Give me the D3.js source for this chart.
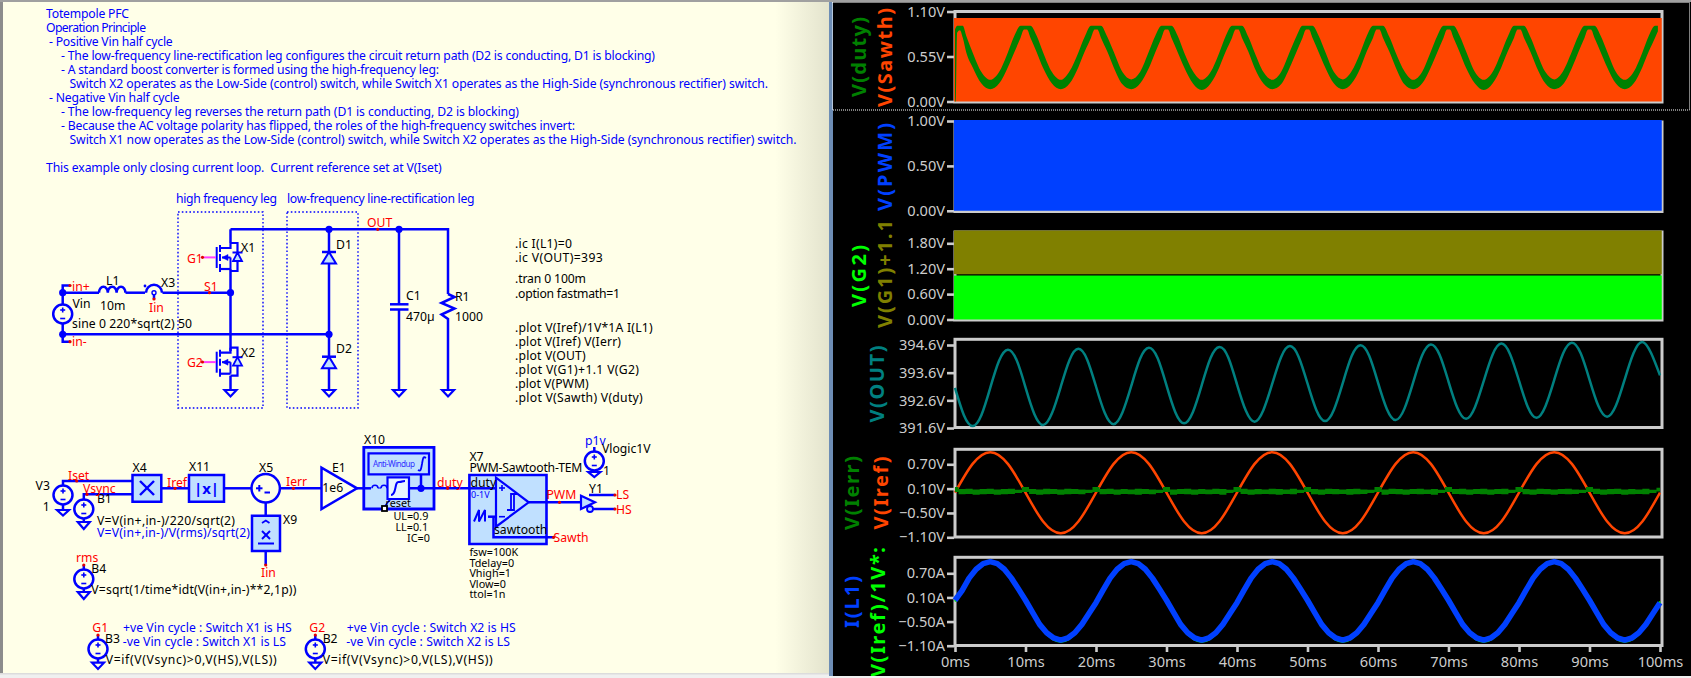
<!DOCTYPE html>
<html lang="en">
    <head>
        <meta charset="utf-8">
        <title>Totempole PFC</title>
        <script type="text/javascript" src="https://cdn.jsdelivr.net/npm/d3@7/dist/d3.min.js"></script>
        <style>
        html,body{
            margin:0;
            padding:0;
            background-color:#f0f0f0;
            overflow:hidden;
        }
        svg{
            display:block;
        }
        text{
            font-family:"Noto Sans",sans-serif;
            white-space:pre;
        }
        </style>
    </head>
    <body>
        <script type="text/javascript">

        let w = 1691;
        let h = 678;

        // ---- waveform values ----
        let timeTicks = [0,10,20,30,40,50,60,70,80,90,100];

        let fillTime = [-0.15,100.25];
        let sawthLow = [0,0];
        let sawthHigh = [1.02,1.02];
        let pwmLow = [0,0];
        let pwmHigh = [1.011,1.011];
        let g1Low = [1.07,1.07];
        let g1High = [2.1,2.1];
        let g2Low = [0,0];
        let g2High = [1.04,1.04];

        let dutyTime = [0,0.1,0.3,0.7,1.1,1.6,2.5,3.75,5,6.25,7.5,8.4,
            9.3,9.8,10.2,10.7,11.6,12.5,13.75,15,16.25,17.5,18.4,
            19.3,19.8,20.2,20.7,21.6,22.5,23.75,25,26.25,27.5,28.4,
            29.3,29.8,30.2,30.7,31.6,32.5,33.75,35,36.25,37.5,38.4,
            39.3,39.8,40.2,40.7,41.6,42.5,43.75,45,46.25,47.5,48.4,
            49.3,49.8,50.2,50.7,51.6,52.5,53.75,55,56.25,57.5,58.4,
            59.3,59.8,60.2,60.7,61.6,62.5,63.75,65,66.25,67.5,68.4,
            69.3,69.8,70.2,70.7,71.6,72.5,73.75,75,76.25,77.5,78.4,
            79.3,79.8,80.2,80.7,81.6,82.5,83.75,85,86.25,87.5,88.4,
            89.3,89.8,90.2,90.7,91.6,92.5,93.75,95,96.25,97.5,98.4,99.3,99.7];
        let dutyHigh = [0.88,0.9,0.925,0.925,0.925,0.8,0.6,0.36,0.265,0.36,0.6,0.8,
            0.925,0.925,0.925,0.925,0.8,0.6,0.36,0.265,0.37,0.6,0.79,
            0.925,0.925,0.925,0.925,0.79,0.61,0.36,0.27,0.36,0.61,0.8,
            0.925,0.925,0.925,0.925,0.8,0.6,0.37,0.265,0.36,0.6,0.8,
            0.925,0.925,0.925,0.925,0.79,0.6,0.36,0.265,0.36,0.61,0.79,
            0.925,0.925,0.925,0.925,0.8,0.61,0.36,0.27,0.37,0.6,0.8,
            0.925,0.925,0.925,0.925,0.79,0.6,0.37,0.265,0.36,0.61,0.8,
            0.925,0.925,0.925,0.925,0.8,0.61,0.36,0.265,0.36,0.6,0.79,
            0.925,0.925,0.925,0.925,0.79,0.6,0.36,0.27,0.37,0.61,0.8,
            0.925,0.925,0.925,0.925,0.8,0.61,0.36,0.265,0.36,0.6,0.8,0.925,0.925];
        let dutyLowEdge = [0,0,0.84,0.87,0.78,0.6,0.42,0.22,0.15,0.22,0.42,0.6,
            0.78,0.88,0.88,0.78,0.6,0.41,0.22,0.15,0.22,0.42,0.61,
            0.78,0.88,0.88,0.78,0.61,0.42,0.21,0.15,0.22,0.41,0.6,
            0.78,0.88,0.88,0.78,0.6,0.42,0.22,0.14,0.22,0.42,0.61,
            0.78,0.88,0.88,0.78,0.61,0.41,0.22,0.15,0.21,0.42,0.6,
            0.78,0.88,0.88,0.78,0.6,0.42,0.22,0.15,0.22,0.41,0.61,
            0.78,0.88,0.88,0.78,0.61,0.42,0.21,0.15,0.22,0.42,0.6,
            0.78,0.88,0.88,0.78,0.6,0.41,0.22,0.14,0.22,0.42,0.61,
            0.78,0.88,0.88,0.78,0.61,0.42,0.22,0.15,0.21,0.41,0.6,
            0.78,0.88,0.88,0.78,0.6,0.42,0.22,0.15,0.22,0.42,0.61,0.78,0.86];

        // sampled every 1.25 ms
        let voutTime = [0,1.25,2.5,3.75,5,6.25,7.5,8.75,10,11.25,12.5,13.75,15,16.25,17.5,18.75,
            20,21.25,22.5,23.75,25,26.25,27.5,28.75,30,31.25,32.5,33.75,35,36.25,37.5,38.75,
            40,41.25,42.5,43.75,45,46.25,47.5,48.75,50,51.25,52.5,53.75,55,56.25,57.5,58.75,
            60,61.25,62.5,63.75,65,66.25,67.5,68.75,70,71.25,72.5,73.75,75,76.25,77.5,78.75,
            80,81.25,82.5,83.75,85,86.25,87.5,88.75,90,91.25,92.5,93.75,95,96.25,97.5,98.75,100];
        let vout = [393.05,392.07,391.67,392.07,393.05,394.03,394.43,394.05,393.07,392.11,391.71,392.13,393.09,394.06,394.46,394.07,
            393.1,392.14,391.74,392.16,393.12,394.1,394.5,394.12,393.14,392.17,391.77,392.18,393.15,394.13,394.53,394.16,
            393.18,392.23,391.83,392.25,393.2,394.16,394.56,394.17,393.21,392.25,391.85,392.26,393.22,394.19,394.59,394.21,
            393.24,392.29,391.89,392.3,393.26,394.22,394.62,394.24,393.28,392.33,391.93,392.35,393.3,394.25,394.65,394.26,
            393.31,392.36,391.97,392.39,393.34,394.29,394.68,394.3,393.35,392.4,392.01,392.41,393.36,394.31,394.71,394.3,393.5];

        // sampled every 2.5 ms
        let sineTime = [0,2.5,5,7.5,10,12.5,15,17.5,20,22.5,25,27.5,30,32.5,35,37.5,40,42.5,45,47.5,
            50,52.5,55,57.5,60,62.5,65,67.5,70,72.5,75,77.5,80,82.5,85,87.5,90,92.5,95,97.5,100];
        let iref = [0,0.71,1,0.71,0,-0.71,-1,-0.71,0,0.71,
            1,0.71,0,-0.71,-1,-0.71,0,0.71,1,0.71,
            0,-0.71,-1,-0.71,0,0.71,1,0.71,0,-0.71,
            -1,-0.71,0,0.71,1,0.71,0,-0.71,-1,-0.71,0];

        // sampled every 1 ms
        let msTime = [0,1,2,3,4,5,6,7,8,9,10,11,12,13,14,15,16,17,18,19,20,21,22,23,24,25,26,27,28,29,
            30,31,32,33,34,35,36,37,38,39,40,41,42,43,44,45,46,47,48,49,50,51,52,53,54,55,56,57,58,59,
            60,61,62,63,64,65,66,67,68,69,70,71,72,73,74,75,76,77,78,79,80,81,82,83,84,85,86,87,88,89,
            90,91,92,93,94,95,96,97,98,99,100];
        let ierrHigh = [0.14,0.09,0.1,0.08,0.09,0.1,0.08,0.09,0.1,0.07,0.14,0.09,0.08,0.1,0.09,0.08,0.1,0.09,0.08,0.07,
            0.14,0.09,0.1,0.08,0.09,0.08,0.1,0.09,0.08,0.07,0.14,0.08,0.09,0.1,0.08,0.09,0.08,0.1,0.09,0.07,
            0.14,0.1,0.08,0.09,0.08,0.1,0.09,0.08,0.1,0.07,0.14,0.09,0.08,0.1,0.09,0.08,0.09,0.1,0.08,0.07,
            0.14,0.08,0.1,0.09,0.08,0.09,0.1,0.08,0.09,0.07,0.14,0.09,0.1,0.08,0.09,0.1,0.08,0.09,0.1,0.07,
            0.14,0.09,0.08,0.1,0.09,0.08,0.09,0.1,0.08,0.07,0.14,0.1,0.08,0.09,0.1,0.08,0.09,0.08,0.1,0.07,0.12];
        let ierrLow = [0.02,-0.04,-0.03,-0.05,-0.04,-0.03,-0.05,-0.04,-0.03,-0.01,0.02,-0.03,-0.05,-0.04,-0.03,-0.05,-0.04,-0.03,-0.04,-0.01,
            0.02,-0.04,-0.03,-0.05,-0.03,-0.04,-0.05,-0.03,-0.04,-0.01,0.02,-0.05,-0.03,-0.04,-0.05,-0.03,-0.04,-0.03,-0.05,-0.01,
            0.02,-0.03,-0.05,-0.04,-0.03,-0.04,-0.05,-0.03,-0.04,-0.01,0.02,-0.04,-0.05,-0.03,-0.04,-0.03,-0.05,-0.04,-0.03,-0.01,
            0.02,-0.05,-0.03,-0.04,-0.05,-0.03,-0.04,-0.03,-0.05,-0.01,0.02,-0.03,-0.04,-0.05,-0.03,-0.04,-0.05,-0.03,-0.04,-0.01,
            0.02,-0.04,-0.05,-0.03,-0.04,-0.05,-0.03,-0.04,-0.03,-0.01,0.02,-0.03,-0.05,-0.04,-0.03,-0.05,-0.04,-0.03,-0.04,-0.01,0.03];
        let il1 = [0.03,0.27,0.58,0.8,0.94,0.99,0.94,0.8,0.58,0.31,0.03,-0.27,-0.57,-0.78,-0.91,-0.96,-0.91,-0.78,-0.57,-0.3,
            -0.03,0.28,0.58,0.8,0.94,0.99,0.94,0.8,0.58,0.31,0.03,-0.27,-0.57,-0.78,-0.91,-0.96,-0.91,-0.78,-0.57,-0.3,
            -0.03,0.28,0.58,0.8,0.94,0.99,0.94,0.8,0.58,0.31,0.03,-0.27,-0.57,-0.78,-0.91,-0.96,-0.91,-0.78,-0.57,-0.3,
            -0.03,0.28,0.58,0.8,0.94,0.99,0.94,0.8,0.58,0.31,0.03,-0.27,-0.57,-0.78,-0.91,-0.96,-0.91,-0.78,-0.57,-0.3,
            -0.03,0.28,0.58,0.8,0.94,0.99,0.94,0.8,0.58,0.31,0.03,-0.27,-0.57,-0.78,-0.91,-0.96,-0.91,-0.78,-0.57,-0.3,-0.03];

        // tick labels per plot pane
        let dutyTicks = [0,0.55,1.1];
        let pwmTicks = [0,0.5,1];
        let gateTicks = [0,0.6,1.2,1.8];
        let voutTicks = [391.6,392.6,393.6,394.6];
        let irefTicks = [-1.1,-0.5,0.1,0.7];
        let il1Ticks = [-1.1,-0.5,0.1,0.7];

        // ---- texts of the schematic: x, baseline, text, length on screen ----
        let noteLines = [
            [46,18,"Totempole PFC",83],
            [46,32,"Operation Principle",100],
            [49,46,"- Positive Vin half cycle",123.7],
            [61,60,"- The low-frequency line-rectification leg configures the circuit return path (D2 is conducting, D1 is blocking)",594],
            [61,74,"- A standard boost converter is formed using the high-frequency leg:",378],
            [69.5,88,"Switch X2 operates as the Low-Side (control) switch, while Switch X1 operates as the High-Side (synchronous rectifier) switch.",698.5],
            [49,102,"- Negative Vin half cycle",130.7],
            [61,116,"- The low-frequency leg reverses the return path (D1 is conducting, D2 is blocking)",458],
            [61,130,"- Because the AC voltage polarity has flipped, the roles of the high-frequency switches invert:",514],
            [69.5,144,"Switch X1 now operates as the Low-Side (control) switch, while Switch X2 operates as the High-Side (synchronous rectifier) switch.",727],
            [46,172,"This example only closing current loop.  Current reference set at V(Iset)",395.7],
            [176,203,"high frequency leg",101],
            [287,203,"low-frequency line-rectification leg",187.5],
            [97,536.7,"V=V(in+,in-)/V(rms)/sqrt(2)",153],
            [123,632.3,"+ve Vin cycle : Switch X1 is HS",168.7],
            [122.7,646,"-ve Vin cycle : Switch X1 is LS",163.3],
            [346.7,632.3,"+ve Vin cycle : Switch X2 is HS",169],
            [346.3,646,"-ve Vin cycle : Switch X2 is LS",163.7],
            [585,445,"p1v"]
        ];
        let blackLabels = [
            [241,251.7,"X1"],[241,356.7,"X2"],[161,286.7,"X3"],[106,285,"L1"],[100,310,"10m"],
            [72.5,307.7,"Vin"],[72,328,"sine 0 220*sqrt(2) 50",120],[336,249,"D1"],[336,353.3,"D2"],
            [406,300,"C1"],[406,320.7,"470µ"],[455,300.7,"R1"],[455,321,"1000"],
            [515,248.3,".ic I(L1)=0",57],[515,262,".ic V(OUT)=393",87.7],[515,283.3,".tran 0 100m",71],[515,297.5,".option fastmath=1",105],
            [515,332.3,".plot V(Iref)/1V*1A I(L1)",137.7],[515,346,".plot V(Iref) V(Ierr)",106],[515,360,".plot V(OUT)",70.7],
            [515,374,".plot V(G1)+1.1 V(G2)",124],[515,388,".plot V(PWM)",73.7],[515,402,".plot V(Sawth) V(duty)",127.7],
            [35.6,490,"V3"],[42.7,510.7,"1"],[96.9,503.3,"B1"],[97,525,"V=V(in+,in-)/220/sqrt(2)",138],
            [132.5,471.7,"X4"],[189,471,"X11"],[259,472.3,"X5"],[283,524.3,"X9"],[332,472.3,"E1"],[322.3,492.3,"1e6"],
            [364,444,"X10"],
            [469.4,461,"X7"],[469.4,472.3,"PWM-Sawtooth-TEM",113],[470.6,486.7,"duty"],[494,534.3,"sawtooth"],
            [589,493,"Y1"],[602,453.3,"Vlogic1V"],[603,475,"1"],
            [91.3,572.7,"B4"],[91.3,594,"V=sqrt(1/time*idt(V(in+,in-)**2,1p))",205],
            [105,643.3,"B3"],[105.7,664.3,"V=if(V(Vsync)>0,V(HS),V(LS))",171],
            [322.7,643.3,"B2"],[322.7,664.3,"V=if(V(Vsync)>0,V(LS),V(HS))",170]
        ];
        // tightly stacked parameter lists, set a little smaller
        let paramLabels = [
            [385.5,506.7,"reset"],[393.4,520,"UL=0.9"],[395.4,531,"LL=0.1"],[407,541.5,"IC=0"],
            [469.4,556,"fsw=100K"],[469.4,566.7,"Tdelay=0"],[469.4,577,"Vhigh=1"],[469.4,587.5,"Vlow=0"],[469.4,598,"ttol=1n"]
        ];
        let redLabels = [
            [367,227,"OUT",377.7,229.3],[187,262.7,"G1",202.5,257.3],[187,367.4,"G2",202.5,362],
            [72,290.7,"in+",70,285.5],[72,346,"in-",70,341.7],[204,290.7,"S1",209.5,292.7],[149,311.7,"Iin",154,299],
            [68,480,"Iset",76.7,481],[83,492.7,"Vsync",87,494.3],[167,486.7,"Iref",175,488.3],[286,485.7,"Ierr",293.4,488.3],
            [261,576.7,"Iin",265.7,565],[437,486.7,"duty",447.6,488.3],[546.5,499.3,"PWM",559.5,502.3],[553.6,541.7,"Sawth",553.6,537.3],
            [616,499,"LS",615,495],[616,514,"HS",615,509],[76,561.7,"rms",83.8,565],
            [92.3,631.7,"G1",98,635],[309.3,631.7,"G2",315.3,635]
        ];

        // ---- page ----
        var svg = d3.select("body")
                    .append("svg")
                    .attr("width", w)
                    .attr("height", h);

        var grad = svg.append("defs").append("linearGradient").attr("id","fade");
        grad.append("stop").attr("offset","0").attr("stop-color","#ffffe8");
        grad.append("stop").attr("offset","0.935").attr("stop-color","#ffffe8");
        grad.append("stop").attr("offset","1").attr("stop-color","#e3e3cd");

        svg.append("rect").attr("width",w).attr("height",h).attr("fill","#f0f0f0");
        svg.append("rect").attr("x",3).attr("y",2).attr("width",826).attr("height",671).attr("fill","url(#fade)");
        svg.append("rect").attr("x",0).attr("y",0).attr("width",3).attr("height",674).attr("fill","#8c8c8c");
        svg.append("rect").attr("x",0).attr("y",673).attr("width",829).attr("height",1.5).attr("fill","#dcdcdc");
        svg.append("rect").attr("x",829).attr("y",2).attr("width",4).attr("height",674).attr("fill","#6d8db5");
        svg.append("rect").attr("x",833).attr("y",2).attr("width",858).attr("height",674).attr("fill","#000");
        svg.append("rect").attr("x",0).attr("y",0).attr("width",w).attr("height",2).attr("fill","#a0a0a0");

        // ---- schematic helpers ----
        var sch = svg.append("g").attr("stroke-linejoin","miter");
        var blue = "#0000ff";
        var pale = "#c0e0ff";
        var labelSize = 12.2;

        function wire(pts, width){
            sch.append("path")
               .attr("d", d3.line()(pts))
               .attr("fill","none")
               .attr("stroke",blue)
               .attr("stroke-width",width||2.5);
        }
        function shape(pts, fill, width){
            sch.append("path")
               .attr("d", d3.line()(pts)+"Z")
               .attr("fill",fill)
               .attr("stroke",blue)
               .attr("stroke-width",width||2.5);
        }
        function node(x,y){
            sch.append("circle").attr("cx",x).attr("cy",y).attr("r",3.6).attr("fill",blue);
        }
        function box(x0,y0,x1,y1,width,fill){
            shape([[x0,y0],[x1,y0],[x1,y1],[x0,y1]],fill||pale,width||2.5);
        }
        function ground(x,y0,y1){
            shape([[x-6,y0],[x+6,y0],[x,y1]],"none",2.2);
        }
        function source(x,y){
            sch.append("circle").attr("cx",x).attr("cy",y).attr("r",9.5).attr("fill","none").attr("stroke",blue).attr("stroke-width",2.5);
            wire([[x-2.5,y-4],[x+2.5,y-4]],1.6);
            wire([[x,y-6.5],[x,y-1.5]],1.6);
            wire([[x-2.5,y+4.5],[x+2.5,y+4.5]],1.6);
        }
        function dotted(x0,y0,x1,y1){
            sch.append("rect").attr("x",x0).attr("y",y0).attr("width",x1-x0).attr("height",y1-y0)
               .attr("fill","none").attr("stroke",blue).attr("stroke-width",1.4).attr("stroke-dasharray","1.6 2.2");
        }
        function mosfet(dy){
            wire([[230.5,243+dy],[230.5,248+dy],[220,248+dy]],2.2);
            wire([[220,269+dy],[230.5,269+dy]],2.2);
            wire([[230.5,243+dy],[237.5,243+dy],[237.5,271+dy],[230.5,271+dy]],2.2);
            wire([[216.7,247+dy],[216.7,268+dy]],2);
            wire([[220,245+dy],[220,252+dy]],2);
            wire([[220,254+dy],[220,261+dy]],2);
            wire([[220,264+dy],[220,272+dy]],2);
            wire([[222,257.5+dy],[230.5,257.5+dy]],2);
            wire([[230.5,257.5+dy],[230.5,269+dy]],2);
            shape([[222,257.5+dy],[228,254.5+dy],[228,260.5+dy]],blue,0.5);
            wire([[232.5,252.5+dy],[242.5,252.5+dy]],2);
            shape([[237.5,252.5+dy],[233,261+dy],[242,261+dy]],pale,1.8);
            sch.append("path").attr("d",d3.line()([[204,257.4+dy],[216,257.4+dy]]))
               .attr("stroke","#ff40ff").attr("stroke-width",2).attr("fill","none");
        }
        function diode(x,y){
            wire([[x-7,y],[x+7,y]]);
            shape([[x,y],[x-7,y+11.5],[x+7,y+11.5]],pale,2);
        }
        function labelText(sel, size, colour){
            sel.attr("x",d=>d[0]).attr("y",d=>d[1]).attr("font-size",size).attr("fill",colour)
               .each(function(d){ if(d.length===4){ d3.select(this).attr("textLength",d[3]); } })
               .text(d=>d[2]);
        }

        // ---- power stage ----
        dotted(178,212,263,408);
        dotted(287,212,358,408);
        wire([[230.5,229.3],[448,229.3],[448,294]]);
        wire([[448,294],[454.5,297],[441.5,303],[454.5,308.5],[441.5,314.5],[448,319],[448,390]]);
        ground(448,390,396.5);
        wire([[329,229.3],[329,390]]);
        ground(329,390,396.5);
        diode(329,252);
        diode(329,356.7);
        wire([[399,229.3],[399,304.3]]);
        wire([[390,304.3],[408.5,304.3]]);
        wire([[390,309.5],[408.5,309.5]]);
        wire([[399,309.5],[399,390]]);
        ground(399,390,396.5);
        wire([[230.5,229.3],[230.5,243]]);
        wire([[230.5,269],[230.5,351]]);
        wire([[230.5,375.7],[230.5,390]]);
        ground(230.5,390,396.5);
        mosfet(0);
        mosfet(104.7);
        wire([[62.7,334.3],[329,334.3]]);
        wire([[62.7,292.7],[99,292.7]]);
        wire([[125.5,292.7],[145,292.7]]);
        wire([[162.5,292.7],[230.5,292.7]]);
        sch.append("path").attr("d","M99 292.7 a4.4 6 0 0 1 8.8 0 a4.4 6 0 0 1 8.8 0 a4.4 6 0 0 1 8.8 0")
           .attr("fill","none").attr("stroke",blue).attr("stroke-width",2.5);
        sch.append("path").attr("d","M146 292.7 a8 8 0 0 1 16 0")
           .attr("fill","none").attr("stroke",blue).attr("stroke-width",2.5);
        sch.append("circle").attr("cx",154).attr("cy",292.7).attr("r",2).attr("fill","none").attr("stroke",blue).attr("stroke-width",1.4);
        sch.append("circle").attr("cx",145).attr("cy",286).attr("r",1.4).attr("fill",blue);
        wire([[154,295],[154,299]]);
        wire([[70,285.5],[62.7,285.5],[62.7,304]]);
        wire([[62.7,324],[62.7,341.7],[70,341.7]]);
        source(62.7,314);
        [[329,229.3],[399,229.3],[230.5,292.7],[62.7,292.7],[62.7,334.3],[329,334.3]].forEach(function(p){ node(p[0],p[1]); });

        // ---- control chain ----
        wire([[63,485],[63,481],[132.5,481]]);
        source(63,495);
        wire([[63,504.5],[63,510]]);
        ground(63,510,515.5);
        wire([[83.8,499.5],[83.8,494.3],[132.5,494.3]]);
        source(83.8,509);
        wire([[83.8,518.5],[83.8,522]]);
        ground(83.8,522,529);
        box(132.5,475,161.3,501.7);
        wire([[140,481],[154,495]],2.4);
        wire([[154,481],[140,495]],2.4);
        wire([[161.3,488.3],[189,488.3]]);
        box(189,475,224,501.7);
        sch.append("text").attr("x",206.5).attr("y",493.5).attr("text-anchor","middle").attr("font-size",15).attr("font-weight","bold").attr("fill",blue).text("|x|");
        wire([[224,488.3],[251.5,488.3]]);
        sch.append("circle").attr("cx",265.7).attr("cy",488.3).attr("r",14.2).attr("fill","none").attr("stroke",blue).attr("stroke-width",2.5);
        wire([[256,488.3],[262.5,488.3]],2);
        wire([[259.3,485],[259.3,491.5]],2);
        wire([[264.5,492.5],[270,492.5]],2);
        wire([[280,488.3],[321.5,488.3]]);
        wire([[265.7,502.5],[265.7,515.7]]);
        box(252,515.7,280,551);
        wire([[262,523],[265.8,520.5],[269.5,523]],1.8);
        wire([[262,531],[270,539]],2);
        wire([[270,531],[262,539]],2);
        wire([[258,543.5],[274,543.5]],2);
        wire([[265.7,551],[265.7,565]]);
        shape([[321.5,467.7],[321.5,509],[357,488.3]],"none",2.5);
        wire([[357,488.3],[364,488.3]]);
        box(363.8,447.3,434,509,2.8);
        box(368.5,453.3,429,474.3,2.2);
        sch.append("text").attr("x",373).attr("y",466.5).attr("font-size",8.2).attr("textLength",42).attr("fill","#3030ff").text("Anti-Windup");
        sch.append("path").attr("d","M418 470 c3 2 3 -1 4 -6 c1 -6 1 -8 4 -6").attr("fill","none").attr("stroke",blue).attr("stroke-width",1.8);
        wire([[364,488.3],[371,488.3]]);
        sch.append("path").attr("d","M372 488.3 a3 3 0 0 1 6 0 M381 488.3 a3 3 0 0 1 6 0").attr("fill","none").attr("stroke",blue).attr("stroke-width",1.6);
        sch.append("path").attr("d","M378 488 L381 488").attr("stroke",blue);
        box(387.5,477.3,409,499,2.2,"#e8f4ff");
        sch.append("path").attr("d","M391 495 c6 0 3 -14 8 -13 c4 0 2 -1 6 -1").attr("fill","none").attr("stroke",blue).attr("stroke-width",2);
        wire([[409,488.3],[469.4,488.3]]);
        wire([[421,474.3],[421,488.3]]);
        node(421,488.3);
        sch.append("path").attr("d","M384.5 508 c1 -4 3 -5 6 -9").attr("fill","none").attr("stroke",blue).attr("stroke-width",1.6);
        sch.append("rect").attr("x",382).attr("y",506).attr("width",5).attr("height",5).attr("fill","#fff").attr("stroke","#000").attr("stroke-width",1.8);
        box(469.4,475,546.5,544,2.6);
        wire([[469.4,488.3],[496,488.3]]);
        shape([[496,477.7],[496,526.7],[528.7,502.3]],pale,2.2);
        wire([[499,488],[505,488]],1.6);
        wire([[502,485],[502,491]],1.6);
        wire([[499,516.7],[505,516.7]],1.6);
        wire([[507,510],[511,510],[511,494],[515,494]],1.8);
        wire([[510,510],[514,510],[514,494],[518,494]],1.8);
        wire([[474,521.5],[479,510],[479,521.5],[485,510],[485,521.5]],2);
        wire([[488,516.7],[496,516.7]]);
        wire([[493.5,516.7],[493.5,537.3],[553.6,537.3]]);
        wire([[528.7,502.3],[581,502.3]]);
        shape([[581,495.7],[581,509],[595,502.3]],pale,2.2);
        wire([[589,495],[615,495]]);
        wire([[593,509],[615,509]]);
        sch.append("circle").attr("cx",590).attr("cy",509).attr("r",3).attr("fill",pale).attr("stroke",blue).attr("stroke-width",1.8);
        wire([[594.3,447],[594.3,451.5]]);
        source(594.3,461);
        wire([[594.3,470.5],[594.3,472]]);
        ground(594.3,472,477);
        wire([[83.8,565],[83.8,569.5]]);
        source(83.8,579);
        wire([[83.8,588.5],[83.8,592]]);
        ground(83.8,592,599);
        wire([[98,635],[98,639.5]]);
        source(98,649);
        wire([[98,658.5],[98,662.7]]);
        ground(98,662.7,669);
        wire([[315.3,635],[315.3,639.5]]);
        source(315.3,649);
        wire([[315.3,658.5],[315.3,662.7]]);
        ground(315.3,662.7,669);
        sch.append("text").attr("x",471).attr("y",497.7).attr("font-size",9).attr("fill",blue).text("0-1V");

        // ---- schematic texts ----
        labelText(sch.selectAll("text.note").data(noteLines).enter().append("text").attr("class","note"),labelSize,blue);
        labelText(sch.selectAll("text.black").data(blackLabels).enter().append("text").attr("class","black"),labelSize,"#000");
        labelText(sch.selectAll("text.param").data(paramLabels).enter().append("text").attr("class","param"),10.8,"#000");
        sch.selectAll("text.red").data(redLabels).enter().append("text")
           .attr("class","red").attr("x",d=>d[0]).attr("y",d=>d[1])
           .attr("font-size",labelSize).attr("fill","#ff0000").text(d=>d[2]);
        sch.selectAll("circle.reddot").data(redLabels).enter().append("circle")
           .attr("class","reddot").attr("cx",d=>d[3]).attr("cy",d=>d[4]).attr("r",1.6).attr("fill","#e00000");

        // ---- plot panes ----
        var x = d3.scaleLinear().domain([0,100]).range([955,1660]);
        var grid = "#cccccc";

        function pane(top, bottom, domain, range, ticks, fmt){
            var y = d3.scaleLinear().domain(domain).range(range);
            svg.append("rect").attr("x",955).attr("y",top).attr("width",707).attr("height",bottom-top)
               .attr("fill","none").attr("stroke",grid).attr("stroke-width",3);
            var axis = svg.append("g").attr("transform","translate(954,0)")
               .call(d3.axisLeft(y).tickValues(ticks).tickSize(7).tickPadding(2).tickFormat(fmt));
            axis.select(".domain").remove();
            axis.selectAll("line").attr("stroke",grid).attr("stroke-width",2.6);
            axis.selectAll("text").attr("fill",grid).attr("font-size",14.6).attr("font-family","DejaVu Sans");
            return y;
        }
        function band(y, time, low, high, colour, curve){
            var area = d3.area().x(i=>x(time[i])).y0(i=>y(low[i])).y1(i=>y(high[i]));
            if(curve){ area.curve(curve); }
            svg.append("path").attr("d",area(d3.range(time.length))).attr("fill",colour);
        }
        function trace(y, time, values, colour, width, curve){
            var line = d3.line().x(i=>x(time[i])).y(i=>y(values[i])).curve(curve);
            svg.append("path").attr("d",line(d3.range(time.length)))
               .attr("fill","none").attr("stroke",colour).attr("stroke-width",width).attr("stroke-linejoin","round");
        }
        function seriesLabel(cx, cy, txt, colour, len){
            svg.append("text").attr("transform","translate("+cx+","+cy+") rotate(-90)")
               .attr("text-anchor","middle").attr("font-size",20).attr("font-weight","bold")
               .attr("font-family","DejaVu Sans").attr("fill",colour)
               .attr("textLength",len).text(txt);
        }
        var volts = d => d3.format(".2f")(d)+"V";
        var amps = d => d3.format(".2f")(d)+"A";

        var y1 = pane(11.5,102,[0,1.1],[101.5,11.5],dutyTicks,volts);
        band(y1,fillTime,sawthLow,sawthHigh,"#ff4500");
        band(y1,dutyTime,dutyLowEdge,dutyHigh,"#008000",d3.curveMonotoneX);

        var y2 = pane(122,211.5,[0,1],[210.8,121],pwmTicks,volts);
        band(y2,fillTime,pwmLow,pwmHigh,"#0040ff");

        var y3 = pane(232,320,[0,1.8],[319.5,243.3],gateTicks,volts);
        band(y3,fillTime,g1Low,g1High,"#808000");
        band(y3,fillTime,g2Low,g2High,"#00ff00");

        var y4 = pane(339.3,427.5,[391.6,394.6],[428,345],voutTicks,d => d3.format(".1f")(d)+"V");
        trace(y4,voutTime,vout,"#008080",2.5,d3.curveNatural);

        var y5 = pane(449.3,537,[-1.1,0.7],[537.3,464.3],irefTicks,volts);
        trace(y5,sineTime,iref,"#ff4500",2.5,d3.curveNatural);
        band(y5,msTime,ierrLow,ierrHigh,"#008000",d3.curveStep);

        var y6 = pane(557.3,645.5,[-1.1,0.7],[645.7,573.3],il1Ticks,amps);
        trace(y6,sineTime,iref,"#00ff00",2,d3.curveNatural);
        trace(y6,msTime,il1,"#0040ff",5.6,d3.curveLinear);

        var xAxis = svg.append("g").attr("transform","translate(0,646)")
           .call(d3.axisBottom(x).tickValues(timeTicks).tickSize(6).tickPadding(5).tickFormat(d=>d+"ms"));
        xAxis.select(".domain").remove();
        xAxis.selectAll("line").attr("stroke",grid).attr("stroke-width",2.6);
        xAxis.selectAll("text").attr("fill",grid).attr("font-size",14.6).attr("font-family","DejaVu Sans");

        seriesLabel(866,57,"V(duty)","#008000",80);
        seriesLabel(892,57.5,"V(Sawth)","#ff4500",99);
        seriesLabel(892,167,"V(PWM)","#0040ff",88);
        seriesLabel(866,276,"V(G2)","#00ff00",62);
        seriesLabel(892,274,"V(G1)+1.1","#808000",108);
        seriesLabel(884,384,"V(OUT)","#008080",77);
        seriesLabel(859,493,"V(Ierr)","#008000",74);
        seriesLabel(888,493,"V(Iref)","#ff4500",73);
        seriesLabel(859,602,"I(L1)","#0040ff",52);
        seriesLabel(885,612,"V(Iref)/1V*:","#00ff00",130);

        // covers the end of the clipped label
        svg.append("rect").attr("x",833).attr("y",676).attr("width",858).attr("height",2).attr("fill","#f0f0f0");

        // selection marker of the active pane
        svg.append("rect").attr("x",832.5).attr("y",2.5).attr("width",857).attr("height",107.5)
           .attr("fill","none").attr("stroke","#fff").attr("stroke-width",1).attr("stroke-dasharray","1 1");

        </script>
    </body>
</html>
